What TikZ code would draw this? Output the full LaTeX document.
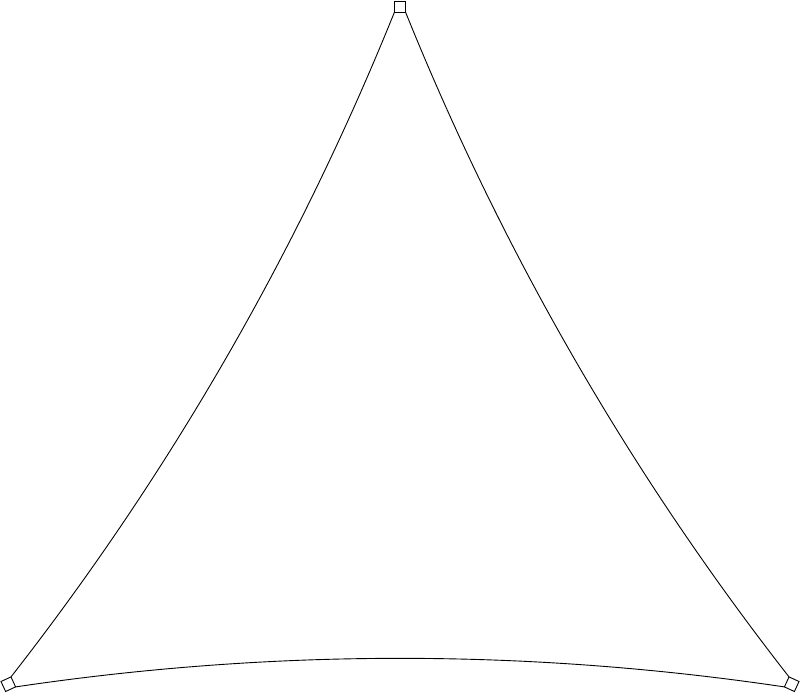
\documentclass[tikz,border=0pt]{standalone}
\begin{document}
\begin{tikzpicture}[x=1pt,y=-1pt,
  edge/.style={line width=0.9pt, black},
  ring/.style={line width=0.9pt, black, fill=white}]
\useasboundingbox (0,0) rectangle (800,693);
% corner rings
\coordinate (TL) at (394.5,12);
\coordinate (TR) at (405.5,12);
\coordinate (Ltop) at (11,676.9);
\coordinate (Lright) at (15.6,686.9);
\coordinate (Rtop) at (789,676.9);
\coordinate (Rleft) at (784.4,686.9);
% edges
\draw[edge] (TL) .. controls (297.8,251.7) and (170,473.3) .. (Ltop);
\draw[edge] (TR) .. controls (502.2,251.7) and (630,473.3) .. (Rtop);
\draw[edge] (Lright) .. controls (271.9,648.8) and (528.1,648.8) .. (Rleft);
% rings
\draw[ring] (394.5,1) rectangle (405.5,12);
\draw[ring] (1.0,681.5) -- (Ltop) -- (Lright) -- (5.6,691.5) -- cycle;
\draw[ring] (799,681.5) -- (Rtop) -- (Rleft) -- (794.4,691.5) -- cycle;
\end{tikzpicture}
\end{document}
